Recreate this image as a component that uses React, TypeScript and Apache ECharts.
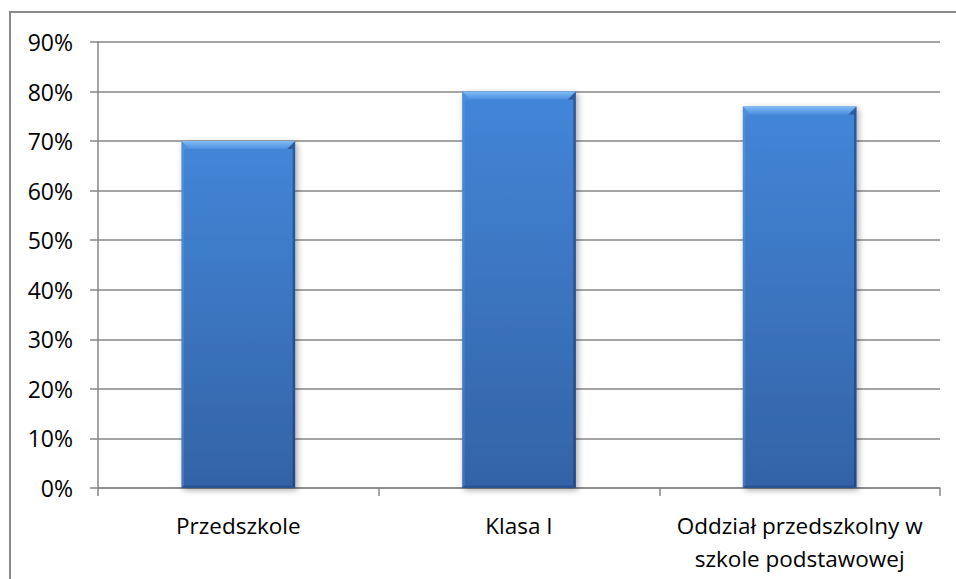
import React, { useEffect, useRef } from "react";
import * as echarts from "echarts";

const categories = ["Przedszkole", "Klasa I", "Oddział przedszkolny w\nszkole podstawowej"];
const values = [70, 80, 77];
const yMax = 90;
const yInterval = 10;

export default function App() {
  const ref = useRef<HTMLDivElement>(null);
  useEffect(() => {
    if (!ref.current) return;
    const chart = echarts.init(ref.current, undefined, { renderer: "svg" });
    const font = "'Open Sans', 'Noto Sans', sans-serif";
    chart.setOption({
      animation: false,
      backgroundColor: "#ffffff",
      graphic: [
        {
          type: "rect",
          shape: { x: 10, y: 12, width: 1200, height: 1200 },
          style: { fill: "none", stroke: "#8a8a8a", lineWidth: 2 },
          z: 0,
        },
      ],
      grid: { left: 98, top: 42, right: 16, bottom: 91, containLabel: false },
      xAxis: {
        type: "category",
        data: categories,
        boundaryGap: true,
        axisLine: { show: true, lineStyle: { color: "#878787", width: 1.5 } },
        axisTick: { show: true, length: 8, inside: false, lineStyle: { color: "#878787", width: 1.5 } },
        axisLabel: {
          color: "#000",
          fontFamily: font,
          fontSize: 22.5,
          margin: 21,
          lineHeight: 33,
          interval: 0,
        },
      },
      yAxis: {
        type: "value",
        min: 0,
        max: yMax,
        interval: yInterval,
        axisLine: { show: true, lineStyle: { color: "#878787", width: 1.5 } },
        axisTick: { show: true, length: 8, lineStyle: { color: "#878787", width: 1.5 } },
        splitLine: { show: true, lineStyle: { color: "#878787", width: 1.5 } },
        axisLabel: {
          color: "#000",
          fontFamily: font,
          fontSize: 23,
          margin: 25,
          formatter: (v: number) => `${v}%`,
        },
      },
      series: [
        {
          type: "custom",
          data: values.map((v, i) => [i, v]),
          encode: { x: 0, y: 1 },
          z: 3,
          renderItem: (params: any, api: any) => {
            const idx = api.value(0);
            const v = api.value(1);
            const top = api.coord([idx, v]);
            const base = api.coord([idx, 0]);
            const bw = api.size([1, 0])[0] * 0.405;
            const x0 = top[0] - bw / 2;
            const x1 = top[0] + bw / 2;
            const y0 = top[1];
            const y1 = base[1];
            const b = 8;
            const s = 2.5;
            return {
              type: "group",
              children: [
                {
                  type: "rect",
                  shape: { x: x0, y: y0, width: bw, height: y1 - y0 },
                  style: {
                    fill: new echarts.graphic.LinearGradient(0, 0, 0, 1, [
                      { offset: 0, color: "#4386d8" },
                      { offset: 1, color: "#3363a6" },
                    ]),
                    shadowBlur: 6,
                    shadowOffsetX: 2,
                    shadowOffsetY: 2,
                    shadowColor: "rgba(0,0,0,0.35)",
                  },
                },
                {
                  type: "polygon",
                  shape: { points: [[x0, y0], [x1, y0], [x1 - b, y0 + b], [x0 + b, y0 + b]] },
                  style: {
                    fill: new echarts.graphic.LinearGradient(0, 0, 0, 1, [
                      { offset: 0, color: "#80bcf6" },
                      { offset: 1, color: "#4d8ee0" },
                    ]),
                  },
                },
                {
                  type: "polygon",
                  shape: { points: [[x0, y0], [x0 + b, y0 + b], [x0 + s, y0 + b], [x0 + s, y1 - s], [x0, y1]] },
                  style: { fill: "rgba(110,165,230,0.3)" },
                },
                {
                  type: "polygon",
                  shape: { points: [[x1, y0], [x1 - b, y0 + b], [x1 - s, y0 + b], [x1 - s, y1 - s], [x1, y1]] },
                  style: { fill: "rgba(20,50,100,0.5)" },
                },
                {
                  type: "polygon",
                  shape: { points: [[x0, y1], [x1, y1], [x1 - s, y1 - s], [x0 + s, y1 - s]] },
                  style: { fill: "rgba(20,50,100,0.3)" },
                },
              ],
            };
          },
        },
      ],
    });
    return () => chart.dispose();
  }, []);
  return (
    <div
      ref={ref}
      style={{ position: "absolute", left: 0, top: 0, width: 956, height: 579 }}
    />
  );
}
